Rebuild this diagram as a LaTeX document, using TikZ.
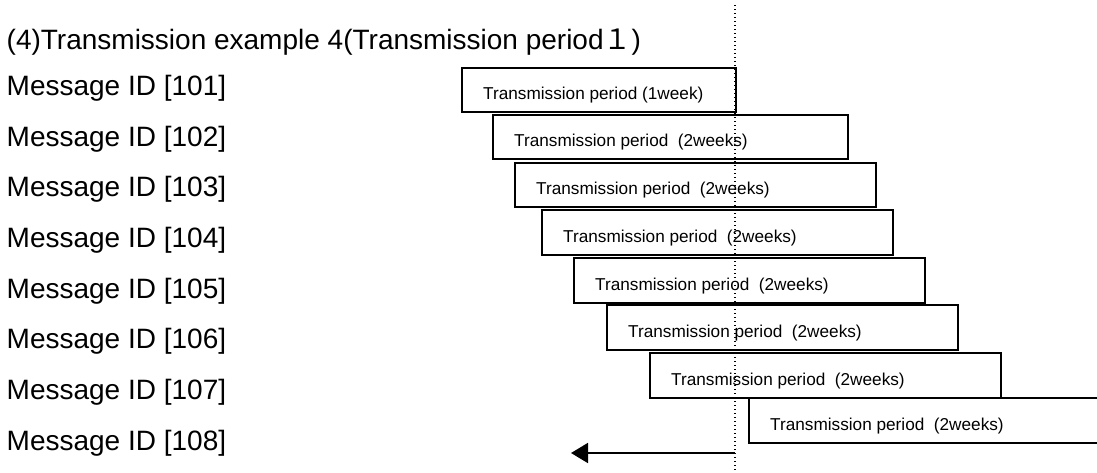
\documentclass[tikz,border=0pt]{standalone}
\usepackage{fontspec}
\setmainfont{Liberation Sans}
\newfontfamily\cjk{Noto Sans CJK JP}
\usetikzlibrary{arrows.meta}
\tikzset{
  period/.style={draw, line width=1.6pt, rectangle, anchor=north west, inner sep=0pt},
  ptext/.style={anchor=west, inner sep=0pt, text height=20pt, text depth=0pt, font=\fontsize{17.2}{17.2}\selectfont},
  msg/.style={anchor=base west, inner sep=0pt, font=\fontsize{28}{28}\selectfont},
  title/.style={anchor=base west, inner sep=0pt, font=\fontsize{28}{28}\selectfont},
  dotline/.style={line width=1.3pt, dash pattern=on 1.3pt off 2.7pt},
  backarrow/.style={line width=1.8pt, -{Triangle[length=17pt,width=20pt]}}
}
\begin{document}
\begin{tikzpicture}[x=1pt,y=-1pt]
\clip (0,0) rectangle (1097,472);
\fill[white] (0,0) rectangle (1097,472);
\node[title] (t) at (6.5,49) {(4)Transmission example 4(Transmission period{\cjk １})};
\node[msg] (m1) at (6.5,95.3) {Message ID [101]};
\node[msg] (m2) at (6.5,146.0) {Message ID [102]};
\node[msg] (m3) at (6.5,196.7) {Message ID [103]};
\node[msg] (m4) at (6.5,247.3) {Message ID [104]};
\node[msg] (m5) at (6.5,298.0) {Message ID [105]};
\node[msg] (m6) at (6.5,348.7) {Message ID [106]};
\node[msg] (m7) at (6.5,399.3) {Message ID [107]};
\node[msg] (m8) at (6.5,450.0) {Message ID [108]};
% boxes
\node[period, minimum width=274pt, minimum height=44pt] (p1) at (461,67) {};
\node[period, minimum width=355pt, minimum height=44pt] (p2) at (492,114) {};
\node[period, minimum width=361pt, minimum height=44pt] (p3) at (514,162) {};
\node[period, minimum width=351pt, minimum height=45pt] (p4) at (541,209) {};
\node[period, minimum width=351pt, minimum height=45pt] (p5) at (573,257) {};
\node[period, minimum width=351pt, minimum height=45pt] (p6) at (606,304) {};
\node[period, minimum width=351pt, minimum height=45pt] (p7) at (649,352) {};
\node[period, minimum width=400pt, minimum height=45pt] (p8) at (748,397) {};
\node[ptext] (l1) at ([xshift=22pt]p1.west) {Transmission period (1week)};
\node[ptext] (l2) at ([xshift=22pt]p2.west) {Transmission period\ \ (2weeks)};
\node[ptext] (l3) at ([xshift=22pt]p3.west) {Transmission period\ \ (2weeks)};
\node[ptext] (l4) at ([xshift=22pt]p4.west) {Transmission period\ \ (2weeks)};
\node[ptext] (l5) at ([xshift=22pt]p5.west) {Transmission period\ \ (2weeks)};
\node[ptext] (l6) at ([xshift=22pt]p6.west) {Transmission period\ \ (2weeks)};
\node[ptext] (l7) at ([xshift=22pt]p7.west) {Transmission period\ \ (2weeks)};
\node[ptext] (l8) at ([xshift=22pt]p8.west) {Transmission period\ \ (2weeks)};
% dotted time line
\coordinate (dtop) at (735,5);
\coordinate (dbot) at (735,472);
\draw[dotline] (dtop) -- (dbot);
% arrow
\coordinate (astart) at (735,453);
\coordinate (aend) at (571,453);
\draw[backarrow] (astart) -- (aend);
\end{tikzpicture}
\end{document}
